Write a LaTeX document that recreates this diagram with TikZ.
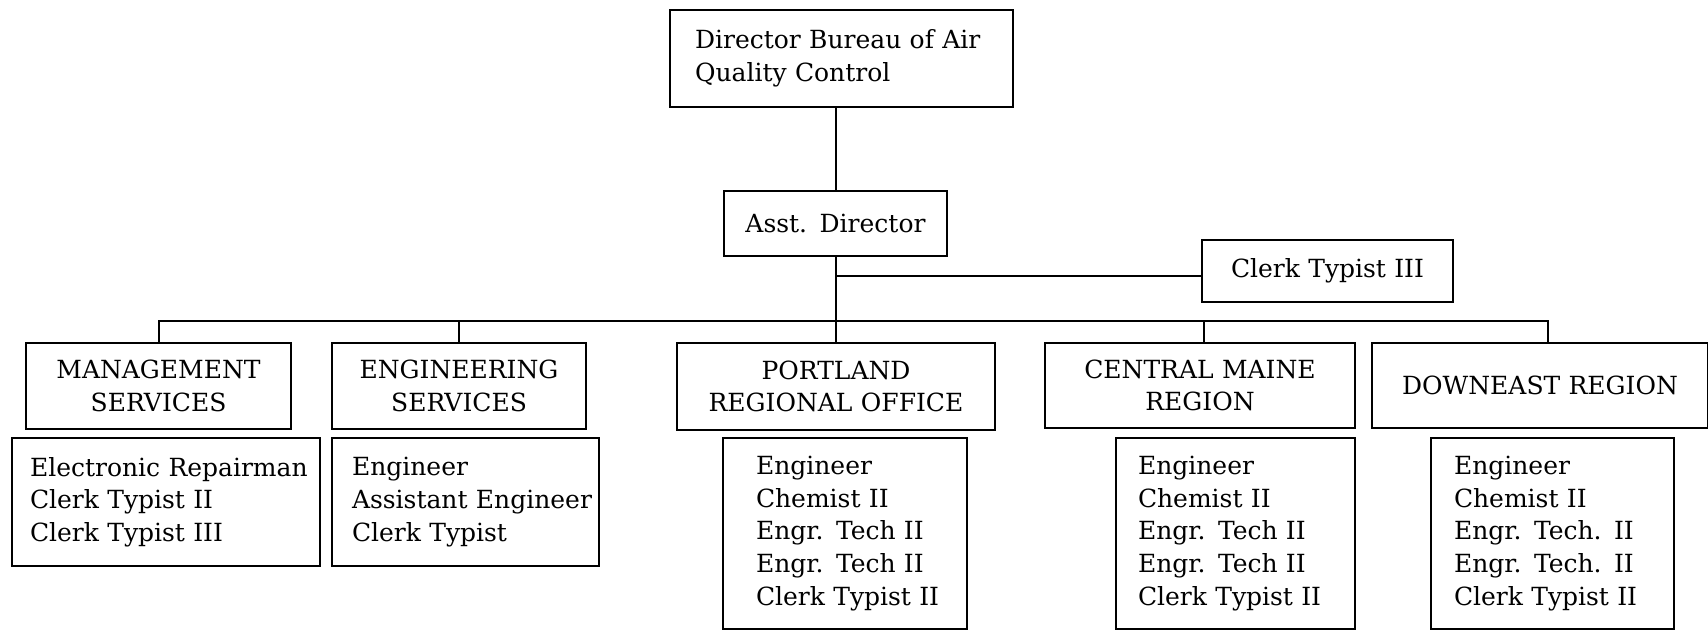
\documentclass[tikz,border=0pt]{standalone}
\usepackage{fontspec}
\setmainfont{DejaVu Serif}
\begin{document}
\begin{tikzpicture}[x=1pt,y=-1pt,
  every node/.style={font=\fontsize{25}{32.7}\selectfont},
  box/.style={draw, line width=2pt, anchor=north west, inner xsep=0pt, inner ysep=0pt},
  cbox/.style={box, align=center},
  lbox/.style={box, align=left},
  conn/.style={line width=2pt}]
\useasboundingbox (0,0) rectangle (1708,630);
% top
\node[lbox, text width=343pt, minimum height=97pt] (dir) at (669,9) {\leftskip=25pt Director Bureau of Air\\Quality Control\par};
\node[cbox, text width=223pt, minimum height=65pt] (asst) at (723,190) {Asst. Director};
\node[cbox, text width=251pt, minimum height=62pt] (ct3) at (1201,239) {Clerk Typist III};
% headers
\node[cbox, text width=265pt, minimum height=86pt] (mgmt) at (25,342) {MANAGEMENT\\SERVICES};
\node[cbox, text width=254pt, minimum height=86pt] (eng) at (331,342) {ENGINEERING\\SERVICES};
\node[cbox, text width=318pt, minimum height=87pt] (port) at (676,342) {PORTLAND\\REGIONAL OFFICE};
\node[cbox, text width=310pt, minimum height=85pt] (cm) at (1044,342) {CENTRAL MAINE\\REGION};
\node[cbox, text width=336pt, minimum height=85pt] (de) at (1371,342) {DOWNEAST REGION};
% lists
\node[lbox, text width=308pt, minimum height=128pt] (mgmtL) at (11,437) {\leftskip=18pt Electronic Repairman\\Clerk Typist II\\Clerk Typist III\par};
\node[lbox, text width=267pt, minimum height=128pt] (engL) at (331,437) {\leftskip=20pt Engineer\\Assistant Engineer\\Clerk Typist\par};
\node[lbox, text width=244pt, minimum height=191pt] (portL) at (722,437) {\leftskip=33pt Engineer\\Chemist II\\Engr. Tech II\\Engr. Tech II\\Clerk Typist II\par};
\node[lbox, text width=239pt, minimum height=191pt] (cmL) at (1115,437) {\leftskip=22pt Engineer\\Chemist II\\Engr. Tech II\\Engr. Tech II\\Clerk Typist II\par};
\node[lbox, text width=243pt, minimum height=191pt] (deL) at (1430,437) {\leftskip=23pt Engineer\\Chemist II\\Engr. Tech. II\\Engr. Tech. II\\Clerk Typist II\par};
% connectors
\coordinate (bus) at (asst.south |- 0,321);
\coordinate (ctb) at ([yshift=-5pt]ct3.west);
\coordinate (dec) at ([xshift=8pt]de.north);
\coordinate (cmc) at ([xshift=4pt]cm.north);
\draw[conn] (asst.north) -- (asst.north |- dir.south);
\draw[conn] (asst.south) -- (asst.south |- port.north);
\draw[conn] (asst.south |- ctb) -- (ctb);
\draw[conn] (mgmt.north) |- (bus) -| (dec);
\draw[conn] (eng.north) -- (eng.north |- bus);
\draw[conn] (cmc) -- (cmc |- bus);
\end{tikzpicture}
\end{document}
